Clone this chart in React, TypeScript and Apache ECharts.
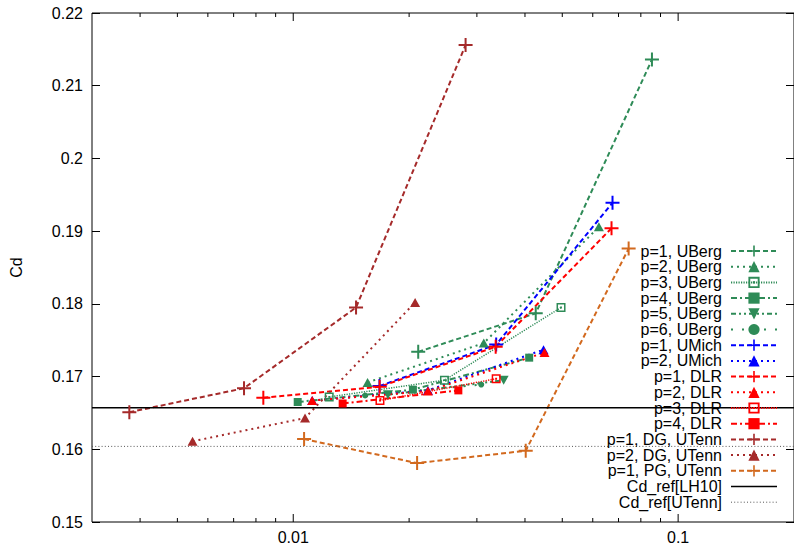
import { useEffect, useRef } from "react";
import * as echarts from "echarts";

// Axis ranges
const X_MIN = 0.003;
const X_MAX = 0.2;
const Y_MIN = 0.15;
const Y_MAX = 0.22;
const Y_STEP = 0.01;

// Log-axis tick positions (major at decades, minor in between)
const X_TICKS = [
  0.004, 0.005, 0.006, 0.007, 0.008, 0.009, 0.01,
  0.02, 0.03, 0.04, 0.05, 0.06, 0.07, 0.08, 0.09, 0.1,
];

// [h, Cd] per curve
const ubergP1 = [[0.02112, 0.1734], [0.04266, 0.1787], [0.0855, 0.2136]];
const ubergP2 = [[0.0156, 0.1692], [0.03126, 0.1746], [0.06224, 0.1906]];
const ubergP3 = [[0.0124, 0.1672], [0.02471, 0.1695], [0.04963, 0.1795]];
const ubergP4 = [[0.01027, 0.1665], [0.02046, 0.1682], [0.04102, 0.1726]];
const ubergP5 = [[0.01762, 0.1675], [0.03521, 0.1695]];
const ubergP6 = [[0.01537, 0.1674], [0.03079, 0.1689]];
const umichP1 = [[0.01675, 0.1687], [0.03367, 0.1744], [0.06753, 0.1939]];
const umichP2 = [[0.0112, 0.1667], [0.02238, 0.1681], [0.04469, 0.1737]];
const dlrP1 = [[0.008361, 0.1671], [0.01677, 0.1686], [0.03357, 0.1741], [0.06713, 0.1904]];
const dlrP2 = [[0.0112, 0.1667], [0.02238, 0.168], [0.04496, 0.1733]];
const dlrP3 = [[0.0168, 0.1667], [0.03367, 0.1697]];
const dlrP4 = [[0.01344, 0.1663], [0.02685, 0.1681]];
const dgP1 = [[0.003751, 0.1651], [0.007449, 0.1684], [0.01456, 0.1795], [0.02804, 0.2156]];
const dgP2 = [[0.005475, 0.1611], [0.01073, 0.1643], [0.02073, 0.1802]];
const pgP1 = [[0.01067, 0.1614], [0.02098, 0.1581], [0.04018, 0.1598], [0.07437, 0.1876]];

// Reference drag coefficients
const CD_REF_LH10 = 0.1657;
const CD_REF_UTENN = 0.1604;

// Colours
const GREEN = "#2e8b57";
const BLUE = "#0000ff";
const RED = "#ff0000";
const BROWN = "#a52a2a";
const ORANGE = "#d2691e";

// Dash patterns
const DASHED = [5, 3];
const DOTTED = [2, 4];
const FINE = [1.2, 1.3];
const DASH_DOT = [6, 3, 2, 3];
const DASH_DOT_DOT = [5, 3, 2, 3, 2, 3];
const SPARSE = [2, 9];

// Marker shapes
const PLUS = "path://M6,0H8V6H14V8H8V14H6V8H0V6H6Z";
const BOX_DOT = "path://M0,0H9V9H0Z M1.5,1.5V7.5H7.5V1.5Z M3.6,3.6H5.4V5.4H3.6Z";

type Curve = {
  name: string;
  data: number[][];
  color: string;
  dash: number[];
  width: number;
  symbol: string;
  size: number | number[];
  rotate?: number;
};

const CURVES: Curve[] = [
  { name: "p=1, UBerg", data: ubergP1, color: GREEN, dash: DASHED, width: 2, symbol: PLUS, size: 14 },
  { name: "p=2, UBerg", data: ubergP2, color: GREEN, dash: DOTTED, width: 2, symbol: "triangle", size: [10, 9] },
  { name: "p=3, UBerg", data: ubergP3, color: GREEN, dash: FINE, width: 1.5, symbol: BOX_DOT, size: 9 },
  { name: "p=4, UBerg", data: ubergP4, color: GREEN, dash: DASH_DOT, width: 2, symbol: "rect", size: 8 },
  { name: "p=5, UBerg", data: ubergP5, color: GREEN, dash: DASH_DOT_DOT, width: 2, symbol: "triangle", size: [10, 9], rotate: 180 },
  { name: "p=6, UBerg", data: ubergP6, color: GREEN, dash: SPARSE, width: 2, symbol: "circle", size: 6 },
  { name: "p=1, UMich", data: umichP1, color: BLUE, dash: DASHED, width: 2, symbol: PLUS, size: 14 },
  { name: "p=2, UMich", data: umichP2, color: BLUE, dash: DOTTED, width: 2, symbol: "triangle", size: [10, 9] },
  { name: "p=1, DLR", data: dlrP1, color: RED, dash: DASHED, width: 2, symbol: PLUS, size: 14 },
  { name: "p=2, DLR", data: dlrP2, color: RED, dash: DOTTED, width: 2, symbol: "triangle", size: [10, 9] },
  { name: "p=3, DLR", data: dlrP3, color: RED, dash: FINE, width: 1.5, symbol: BOX_DOT, size: 9 },
  { name: "p=4, DLR", data: dlrP4, color: RED, dash: DASH_DOT, width: 2, symbol: "rect", size: 8 },
  { name: "p=1, DG, UTenn", data: dgP1, color: BROWN, dash: DASHED, width: 2, symbol: PLUS, size: 14 },
  { name: "p=2, DG, UTenn", data: dgP2, color: BROWN, dash: DOTTED, width: 2, symbol: "triangle", size: [10, 9] },
  { name: "p=1, PG, UTenn", data: pgP1, color: ORANGE, dash: DASHED, width: 2, symbol: PLUS, size: 14 },
];

const FONT = "Liberation Sans, Arial, sans-serif";

export default function App() {
  const ref = useRef<HTMLDivElement>(null);

  useEffect(() => {
    if (!ref.current) return;
    const chart = echarts.init(ref.current, null, { renderer: "svg" });

    const curveSeries = CURVES.map((c) => ({
      name: c.name,
      type: "line",
      data: c.data,
      symbol: c.symbol,
      symbolSize: c.size,
      symbolRotate: c.rotate ?? 0,
      symbolKeepAspect: true,
      lineStyle: { color: c.color, width: c.width, type: c.dash },
      itemStyle: { color: c.color, borderWidth: 0 },
      emphasis: { disabled: true },
      z: 3,
    }));

    const refSeries = [
      {
        name: "Cd_ref[LH10]",
        type: "line",
        data: [[X_MIN, CD_REF_LH10], [X_MAX, CD_REF_LH10]],
        symbol: "none",
        lineStyle: { color: "#000", width: 1.5, type: "solid" },
        itemStyle: { color: "#000" },
        emphasis: { disabled: true },
        z: 3,
      },
      {
        name: "Cd_ref[UTenn]",
        type: "line",
        data: [[X_MIN, CD_REF_UTENN], [X_MAX, CD_REF_UTENN]],
        symbol: "none",
        lineStyle: { color: "#555", width: 1, type: [1, 2.2] },
        itemStyle: { color: "#555" },
        emphasis: { disabled: true },
        z: 3,
      },
    ];

    // Tick marks on the bottom and top edges of the log axis
    const tickSeries = {
      type: "custom",
      silent: true,
      clip: false,
      z: 4,
      data: X_TICKS.map((v) => [v, Y_MIN]),
      renderItem: (_params: any, api: any) => {
        const v = api.value(0) as number;
        const lg = Math.log10(v);
        const len = Math.abs(lg - Math.round(lg)) < 1e-6 ? 8 : 4;
        const pb = api.coord([v, Y_MIN]);
        const pt = api.coord([v, Y_MAX]);
        return {
          type: "group",
          children: [
            { type: "line", shape: { x1: pb[0], y1: pb[1], x2: pb[0], y2: pb[1] - len }, style: { stroke: "#000", lineWidth: 1 } },
            { type: "line", shape: { x1: pt[0], y1: pt[1], x2: pt[0], y2: pt[1] + len }, style: { stroke: "#000", lineWidth: 1 } },
          ],
        };
      },
    };

    const legendData = [
      ...CURVES.map((c) => ({ name: c.name })),
      { name: "Cd_ref[LH10]", itemStyle: { opacity: 0 }, lineStyle: { width: 1.5 } },
      { name: "Cd_ref[UTenn]", itemStyle: { opacity: 0 }, lineStyle: { width: 1 } },
    ];

    const yAxisBase = {
      type: "value",
      min: Y_MIN,
      max: Y_MAX,
      interval: Y_STEP,
      axisLine: { show: false },
      axisTick: { show: true, inside: true, length: 8, lineStyle: { color: "#000", width: 1 } },
      splitLine: { show: false },
    };

    chart.setOption({
      animation: false,
      textStyle: { fontFamily: FONT },
      grid: {
        left: 92,
        right: -3,
        top: 13,
        bottom: 23,
        show: true,
        borderColor: "#000",
        borderWidth: 1,
        backgroundColor: "transparent",
      },
      xAxis: {
        type: "log",
        logBase: 10,
        min: X_MIN,
        max: X_MAX,
        axisLine: { show: false },
        axisTick: { show: false },
        splitLine: { show: false },
        axisLabel: {
          show: true,
          showMinLabel: false,
          showMaxLabel: false,
          margin: 7,
          color: "#000",
          fontSize: 16,
          fontFamily: FONT,
        },
      },
      yAxis: [
        {
          ...yAxisBase,
          name: "Cd",
          nameLocation: "middle",
          nameGap: 68,
          nameTextStyle: { color: "#000", fontSize: 16, fontFamily: FONT },
          axisLabel: { margin: 9, color: "#000", fontSize: 16, fontFamily: FONT },
        },
        {
          ...yAxisBase,
          position: "right",
          axisLabel: { show: false },
        },
      ],
      legend: {
        data: legendData,
        orient: "vertical",
        align: "right",
        right: 16,
        top: 243,
        padding: 0,
        itemWidth: 46,
        itemHeight: 14,
        itemGap: -0.3,
        selectedMode: false,
        textStyle: {
          color: "#000",
          fontSize: 16,
          fontFamily: FONT,
          padding: [0, 4, 0, 0],
        },
      },
      series: [...curveSeries, ...refSeries, tickSeries],
    });

    return () => chart.dispose();
  }, []);

  return (
    <div
      ref={ref}
      style={{ position: "absolute", left: 0, top: 0, width: 794, height: 545 }}
    />
  );
}
